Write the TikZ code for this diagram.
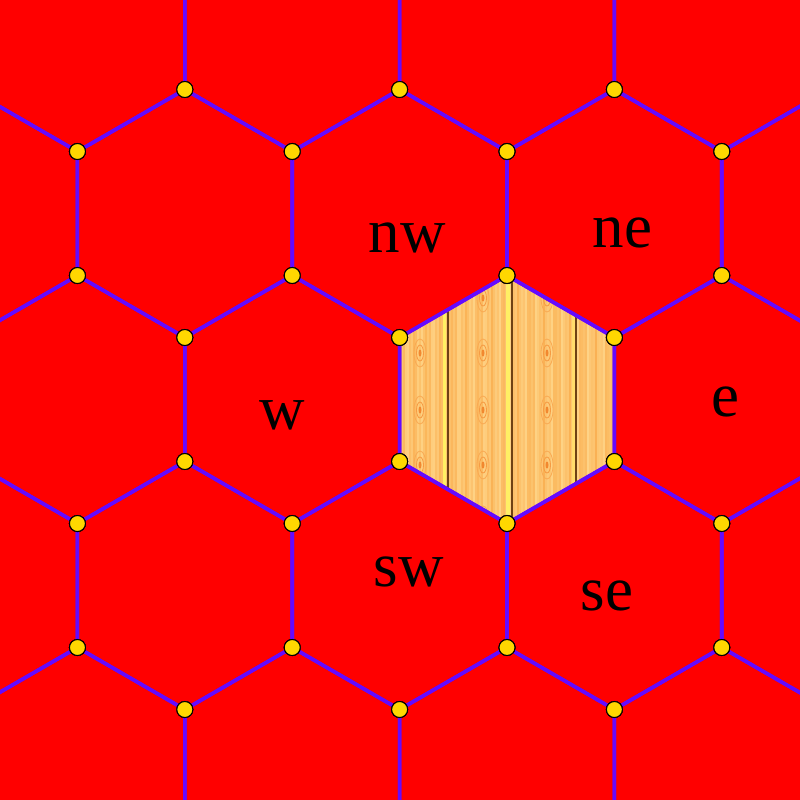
\documentclass[tikz,border=0pt]{standalone}
\usepackage{fontspec}
\setmainfont{Liberation Serif}
\definecolor{hexred}{RGB}{255,0,0}
\definecolor{edgeblue}{RGB}{100,10,255}
\definecolor{dotgold}{RGB}{255,215,0}
\definecolor{woodA}{RGB}{255,200,115}
\definecolor{woodB}{RGB}{250,175,80}
\definecolor{woodC}{RGB}{255,215,140}
\definecolor{knotc}{RGB}{240,125,35}
\definecolor{darkline}{RGB}{110,65,20}
\definecolor{hilite}{RGB}{255,240,100}
\tikzset{
  hexedge/.style={draw=edgeblue, line width=3.6pt, line join=round},
  vdot/.style={fill=dotgold, draw=black, line width=1pt},
  lbl/.style={inner sep=0pt, font=\fontsize{63}{63}\selectfont, text=black},
}
\begin{document}
\begin{tikzpicture}[x=1pt,y=-1pt]
\useasboundingbox (0,0) rectangle (800,800);
\clip (0,0) rectangle (800,800);
\fill[hexred] (0,0) rectangle (800,800);
\def\R{124}
\def\H{107.39}
% wood hexagon (centre 507,399.5)
\begin{scope}
  \clip (507,275.5) -- (614.39,337.5) -- (614.39,461.5) -- (507,523.5) -- (399.61,461.5) -- (399.61,337.5) -- cycle;
  \fill[woodA] (390,260) rectangle (630,540);
  \foreach \i in {0,...,110} {
    \pgfmathsetmacro\xx{398+2*\i}
    \pgfmathtruncatemacro\m{50+45*sin(\i*97.3)*cos(\i*41.7)}
    \draw[woodB!\m!woodC, line width=1.4pt] (\xx,270) -- (\xx,530);
  }
  \foreach \kx in {420,483,547} {
    \foreach \ky in {298,353,410,465,520} {
      \draw[knotc!40!woodA, line width=0.8pt] (\kx,\ky) ellipse (6 and 14);
      \draw[knotc!60!woodA, line width=0.8pt] (\kx,\ky) ellipse (3.5 and 8);
      \fill[knotc!85!woodA] (\kx,\ky) ellipse (1.5 and 3.5);
    }
  }
  \draw[hilite, line width=3pt] (444.5,260) -- (444.5,540);
  \draw[darkline, line width=2pt] (447.7,260) -- (447.7,540);
  \draw[hilite, line width=3.5pt] (508.2,260) -- (508.2,540);
  \draw[darkline, line width=2pt] (511.7,260) -- (511.7,540);
  \draw[hilite!50!woodA, line width=2.5pt] (573.5,260) -- (573.5,540);
  \draw[darkline, line width=2pt] (575.9,260) -- (575.9,540);
\end{scope}
% hexagon outlines
\foreach \r in {-2,...,2} {
  \foreach \c in {-3,...,2} {
    \pgfmathsetmacro\cy{399.5+186*\r}
    \pgfmathsetmacro\cx{507+2*\H*\c+(mod(abs(\r),2)==1 ? -\H : 0)}
    \draw[hexedge] (\cx,\cy-\R) -- (\cx+\H,\cy-\R/2) -- (\cx+\H,\cy+\R/2) -- (\cx,\cy+\R) -- (\cx-\H,\cy+\R/2) -- (\cx-\H,\cy-\R/2) -- cycle;
  }
}
% vertex dots
\foreach \r in {-2,...,2} {
  \foreach \c in {-3,...,2} {
    \pgfmathsetmacro\cy{399.5+186*\r}
    \pgfmathsetmacro\cx{507+2*\H*\c+(mod(abs(\r),2)==1 ? -\H : 0)}
    \foreach \dx/\dy in {0/-124, 107.39/-62, 107.39/62, 0/124, -107.39/62, -107.39/-62} {
      \draw[vdot] (\cx+\dx,\cy+\dy) circle (8);
    }
  }
}
\node[lbl] (nw) at (407,237.5) {nw};
\node[lbl] (ne) at (622.5,233) {ne};
\node[lbl] (w) at (282.5,415) {w};
\node[lbl] (e) at (725,402) {e};
\node[lbl] (sw) at (408.7,571.5) {sw};
\node[lbl] (se) at (607,596) {se};
\end{tikzpicture}
\end{document}
